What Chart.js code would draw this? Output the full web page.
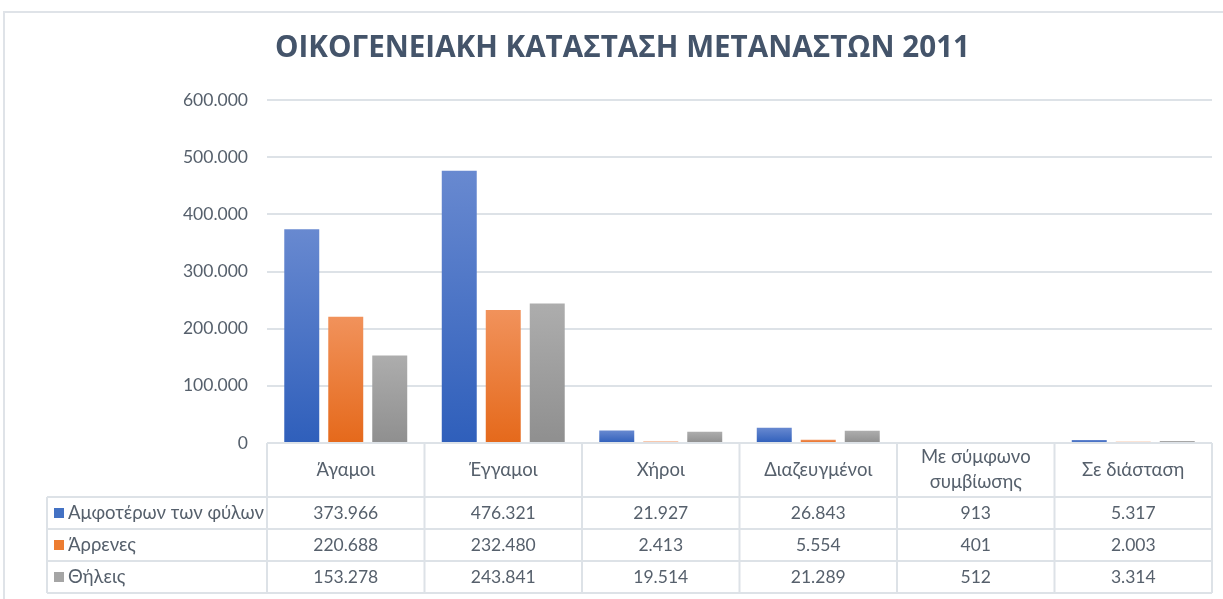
<!DOCTYPE html>
<html>
<head>
<meta charset="utf-8">
<script src="https://cdn.jsdelivr.net/npm/chart.js@4/dist/chart.umd.min.js"></script>
<style>
  html, body { margin: 0; padding: 0; background: #fff; overflow: hidden; }
  #frame { position: absolute; left: 3px; top: 11px; width: 1400px; height: 800px; border: 2px solid #dfe3e8; }
  #chart { position: absolute; left: 0; top: 0; }
</style>
</head>
<body>
<div id="frame"></div>
<canvas id="chart" width="1245" height="599"></canvas>
<script>
const categories = ['Άγαμοι', 'Έγγαμοι', 'Χήροι', 'Διαζευγμένοι', ['Με σύμφωνο', 'συμβίωσης'], 'Σε διάσταση'];
const seriesNames = ['Αμφοτέρων των φύλων', 'Άρρενες', 'Θήλεις'];
const bothSexes = [373966, 476321, 21927, 26843, 913, 5317];
const males = [220688, 232480, 2413, 5554, 401, 2003];
const females = [153278, 243841, 19514, 21289, 512, 3314];
const yTicks = [0, 100000, 200000, 300000, 400000, 500000, 600000];

const solidColors = ['#4472c4', '#ed7d31', '#a5a5a5'];
const gradStops = [
  ['#6889d0', '#2f5fbb'],
  ['#f1925b', '#e5691b'],
  ['#adadad', '#8f8f8f']
];
const textColor = '#56606c';
const lineColor = '#dde2e7';
const FONT = 'Lato, "Noto Sans", sans-serif';

function fmt(n) {
  return String(n).replace(/\B(?=(\d{3})+(?!\d))/g, '.');
}

function barGradient(idx) {
  return (ctx) => {
    const chart = ctx.chart;
    if (!chart.chartArea || ctx.type !== 'data') return solidColors[idx];
    const y = chart.scales.y;
    const top = y.getPixelForValue(ctx.raw);
    const base = y.getPixelForValue(0);
    if (base - top < 1) return gradStops[idx][1];
    const g = chart.ctx.createLinearGradient(0, top, 0, base);
    g.addColorStop(0, gradStops[idx][0]);
    g.addColorStop(1, gradStops[idx][1]);
    return g;
  };
}

// data table under the axis, like Excel's "data table with legend keys"
const dataTable = {
  id: 'dataTable',
  afterDraw(chart) {
    const ctx = chart.ctx;
    const area = chart.chartArea;
    const xs = chart.scales.x;
    const half = area.width / categories.length / 2;
    const headerH = 54, rowH = 32, legendLeft = 47;
    const top = area.bottom;
    const rowsTop = top + headerH;
    const bottom = rowsTop + rowH * seriesNames.length;

    ctx.save();
    ctx.strokeStyle = lineColor;
    ctx.lineWidth = 2;
    ctx.beginPath();
    ctx.moveTo(area.left, top); ctx.lineTo(area.right, top);
    for (let r = 0; r <= seriesNames.length; r++) {
      const y = rowsTop + r * rowH;
      ctx.moveTo(legendLeft, y); ctx.lineTo(area.right, y);
    }
    ctx.moveTo(legendLeft, rowsTop); ctx.lineTo(legendLeft, bottom);
    for (let i = 0; i <= categories.length; i++) {
      const x = area.left + i * half * 2;
      ctx.moveTo(x, top); ctx.lineTo(x, bottom);
    }
    ctx.stroke();

    ctx.fillStyle = textColor;
    ctx.textAlign = 'center';
    ctx.textBaseline = 'middle';

    // header
    ctx.font = '18.5px ' + FONT;
    categories.forEach((c, i) => {
      const x = xs.getPixelForValue(i);
      const lines = Array.isArray(c) ? c : [c];
      const lh = 25;
      const y0 = top + headerH / 2 - (lines.length - 1) * lh / 2;
      lines.forEach((l, k) => ctx.fillText(l, x, y0 + k * lh));
    });

    // rows
    chart.data.datasets.forEach((ds, r) => {
      const yc = rowsTop + r * rowH + rowH / 2;
      ctx.font = '17.5px ' + FONT;
      ds.data.forEach((v, i) => {
        ctx.fillText(fmt(v), xs.getPixelForValue(i), yc);
      });
      ctx.fillStyle = solidColors[r];
      ctx.fillRect(legendLeft + 7, yc - 5, 10, 10);
      ctx.fillStyle = textColor;
      ctx.textAlign = 'left';
      ctx.font = '18.5px ' + FONT;
      ctx.fillText(seriesNames[r], legendLeft + 21, yc);
      ctx.textAlign = 'center';
    });
    ctx.restore();
  }
};

new Chart(document.getElementById('chart'), {
  type: 'bar',
  data: {
    labels: categories,
    datasets: [
      { label: seriesNames[0], data: bothSexes, backgroundColor: barGradient(0) },
      { label: seriesNames[1], data: males, backgroundColor: barGradient(1) },
      { label: seriesNames[2], data: females, backgroundColor: barGradient(2) }
    ]
  },
  options: {
    responsive: false,
    animation: false,
    categoryPercentage: 0.838,
    barPercentage: 0.795,
    layout: { padding: { left: 33, right: 33, bottom: 156, top: 0 } },
    plugins: {
      legend: { display: false },
      tooltip: { enabled: false },
      title: {
        display: true,
        text: 'ΟΙΚΟΓΕΝΕΙΑΚΗ ΚΑΤΑΣΤΑΣΗ ΜΕΤΑΝΑΣΤΩΝ 2011',
        color: '#44546a',
        font: { family: '"Open Sans", sans-serif', size: 29.6, weight: 'bold', lineHeight: 1.2 },
        padding: { top: 31.2, bottom: 33.3 }
      }
    },
    scales: {
      x: { display: false },
      y: {
        min: 0,
        max: 600000,
        afterFit(scale) { scale.width = 234; },
        afterBuildTicks(scale) { scale.ticks = yTicks.map(v => ({ value: v })); },
        border: { display: false },
        grid: { color: lineColor, lineWidth: 2, drawTicks: false },
        ticks: {
          padding: 19,
          color: textColor,
          font: { family: FONT, size: 17.5 },
          callback: (v) => fmt(v)
        }
      }
    }
  },
  plugins: [dataTable]
});
</script>
</body>
</html>
